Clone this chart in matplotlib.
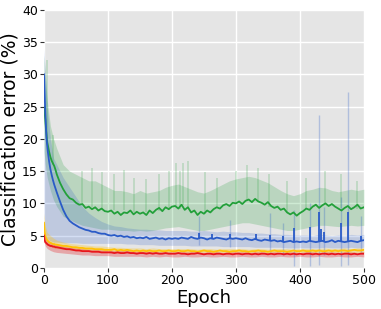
import matplotlib
matplotlib.use("Agg")
import matplotlib.pyplot as plt

epochs = [0, 1, 2, 3, 4, 5, 6, 8, 10, 12, 14, 16, 18, 20] + list(range(25, 501, 5))

green_mean = [
    25.0, 24.0, 23.0, 21.5, 20.5, 19.5, 19.0, 18.0, 17.2, 16.6, 16.2, 15.8, 15.2, 14.5,
    13.2, 12.2, 11.4, 10.8, 10.6, 10.1, 9.8, 9.9, 9.3, 9.5, 9.1, 9.4, 8.9, 9.2, 8.8, 8.7,
    8.9, 8.4, 8.7, 8.2, 8.6, 8.5, 8.9, 8.3, 8.7, 8.4, 8.6, 8.2, 8.9, 8.5, 9.0, 9.3, 8.8, 9.4, 9.1, 9.5,
    9.6, 9.2, 9.8, 9.0, 9.4, 8.6, 8.9, 8.2, 8.7, 8.4, 8.9, 8.6, 9.1, 9.4, 9.2, 9.7, 9.9, 9.6, 10.1, 10.0,
    10.3, 9.9, 10.4, 10.6, 10.2, 10.7, 10.3, 10.1, 9.8, 10.2, 9.6, 9.3, 9.5, 9.0, 9.2, 8.6, 8.3, 8.6, 8.1, 8.5,
    8.8, 9.2, 9.0, 9.5, 9.8, 9.3, 9.7, 10.0, 9.6, 9.9, 9.5, 9.2, 8.9, 9.3, 9.6, 9.1, 9.4, 9.8, 9.2, 9.4,
]
blue_mean = [
    30.0, 27.0, 24.0, 22.0, 20.0, 19.0, 18.0, 16.5, 15.3, 14.4, 13.6, 12.9, 12.3, 11.7,
    10.3, 9.0, 8.0, 7.3, 6.9, 6.6, 6.3, 6.1, 5.9, 5.8, 5.6, 5.6, 5.4, 5.3, 5.3, 5.1,
    5.0, 5.1, 4.9, 5.0, 4.8, 4.9, 4.7, 4.8, 4.6, 4.7, 4.6, 4.8, 4.5, 4.6, 4.7, 4.5, 4.6, 4.4, 4.6, 4.5,
    4.6, 4.5, 4.7, 4.6, 4.5, 4.8, 4.6, 4.5, 4.7, 4.6, 4.4, 4.6, 4.5, 4.7, 4.6, 4.5, 4.4, 4.6, 4.5, 4.6,
    4.5, 4.4, 4.6, 4.4, 4.3, 4.5, 4.3, 4.2, 4.4, 4.3, 4.2, 4.3, 4.1, 4.2, 4.0, 4.1, 4.2, 4.0, 4.1, 4.0,
    4.1, 4.0, 4.2, 4.1, 4.0, 4.1, 4.2, 4.0, 4.1, 4.3, 4.0, 4.2, 4.1, 4.0, 4.1, 4.2, 4.1, 4.0, 4.2, 4.3,
]
yellow_mean = [
    7.0, 5.6, 5.0, 4.7, 4.5, 4.3, 4.2, 4.0, 3.9, 3.8, 3.7, 3.7, 3.6, 3.6,
    3.5, 3.4, 3.4, 3.3, 3.2, 3.2, 3.1, 3.1, 3.0, 3.0, 3.0, 2.9, 2.9, 2.9, 2.8, 2.8,
    2.8, 2.9, 2.7, 2.8, 2.7, 2.8, 2.7, 2.6, 2.7, 2.6, 2.7, 2.6, 2.7, 2.6, 2.6, 2.7, 2.6, 2.6, 2.7, 2.6,
    2.6, 2.7, 2.6, 2.6, 2.7, 2.6, 2.6, 2.5, 2.6, 2.7, 2.6, 2.6, 2.5, 2.6, 2.7, 2.6, 2.6, 2.5, 2.6, 2.6,
    2.7, 2.6, 2.6, 2.5, 2.6, 2.6, 2.7, 2.6, 2.6, 2.5, 2.6, 2.7, 2.6, 2.6, 2.6, 2.5, 2.6, 2.7, 2.6, 2.6,
    2.7, 2.6, 2.6, 2.7, 2.6, 2.7, 2.6, 2.6, 2.7, 2.6, 2.7, 2.6, 2.7, 2.7, 2.6, 2.7, 2.8, 2.7, 2.7, 2.8,
]
red_mean = [
    5.0, 4.3, 4.0, 3.9, 3.8, 3.7, 3.6, 3.5, 3.4, 3.4, 3.3, 3.3, 3.2, 3.2,
    3.1, 3.0, 2.9, 2.9, 2.8, 2.7, 2.7, 2.6, 2.6, 2.6, 2.5, 2.5, 2.5, 2.4, 2.4, 2.4,
    2.4, 2.3, 2.4, 2.3, 2.3, 2.4, 2.3, 2.3, 2.2, 2.3, 2.3, 2.2, 2.3, 2.2, 2.3, 2.2, 2.2, 2.3, 2.2, 2.2,
    2.2, 2.3, 2.2, 2.2, 2.1, 2.2, 2.2, 2.3, 2.2, 2.1, 2.2, 2.2, 2.1, 2.2, 2.2, 2.1, 2.2, 2.2, 2.1, 2.2,
    2.2, 2.1, 2.2, 2.2, 2.1, 2.2, 2.1, 2.2, 2.2, 2.1, 2.2, 2.1, 2.2, 2.2, 2.1, 2.2, 2.1, 2.2, 2.1, 2.2,
    2.1, 2.2, 2.2, 2.1, 2.2, 2.1, 2.2, 2.2, 2.1, 2.2, 2.1, 2.2, 2.1, 2.2, 2.2, 2.1, 2.2, 2.1, 2.2, 2.2,
]

# spread bands, read on a coarser grid
band_epochs = [0, 2, 5, 10, 15, 20] + list(range(30, 501, 10))

green_hi = [33, 30, 26, 22, 20, 18.5,
            16.0, 15.0, 14.5, 14.0, 13.5, 13.5, 13.0, 12.5,
            12.0, 12.0, 11.8, 11.5, 12.0, 11.6, 11.8, 12.0, 12.5, 12.8,
            13.0, 12.6, 12.2, 11.8, 11.6, 12.0, 12.5, 13.0, 13.5, 13.8,
            14.0, 14.2, 14.0, 13.6, 13.2, 12.6, 12.0, 11.5, 11.2, 11.5,
            12.0, 12.2, 12.5, 12.4, 12.0, 11.8, 12.0, 12.2, 12.0, 12.2]
green_lo = [18, 16, 14, 12, 10.5, 9.5,
            8.0, 7.5, 7.0, 6.6, 6.4, 6.2, 6.0, 6.0,
            5.9, 5.8, 5.8, 5.7, 5.8, 5.7, 5.8, 6.0, 6.2, 6.3,
            6.4, 6.2, 6.0, 5.8, 5.8, 6.0, 6.2, 6.4, 6.6, 6.8,
            7.0, 7.0, 6.8, 6.6, 6.4, 6.2, 6.0, 5.8, 5.8, 6.0,
            6.2, 6.4, 6.6, 6.6, 6.5, 6.4, 6.5, 6.6, 6.5, 6.6]
blue_hi = [34, 30, 25, 20, 17, 16,
           14.0, 12.5, 11.0, 9.5, 8.5, 7.8, 7.2, 6.8,
           6.5, 6.4, 6.2, 6.1, 6.0, 6.0, 5.9, 5.9, 5.8, 5.8,
           5.8, 5.8, 5.7, 5.7, 5.8, 5.7, 5.6, 5.7, 5.6, 5.6,
           5.5, 5.5, 5.4, 5.4, 5.3, 5.3, 5.2, 5.2, 5.1, 5.1,
           5.1, 5.0, 5.2, 5.1, 5.0, 5.1, 5.0, 5.2, 5.1, 5.2]
blue_lo = [8.0, 5.0, 4.5, 4.2, 4.0, 4.0,
           3.9, 3.9, 3.9, 3.8, 3.8, 3.8, 3.8, 3.8,
           3.8, 3.8, 3.7, 3.7, 3.6, 3.6, 3.6, 3.5, 3.5, 3.5,
           3.5, 3.5, 3.4, 3.4, 3.4, 3.4, 3.4, 3.3, 3.3, 3.3,
           3.3, 3.3, 3.2, 3.2, 3.2, 3.2, 3.2, 3.1, 3.1, 3.1,
           3.1, 3.1, 3.1, 3.2, 3.1, 3.1, 3.1, 3.2, 3.1, 3.2]
yellow_hi = [8.5, 6.5, 5.5, 5.0, 4.6, 4.3,
             4.0, 3.8, 3.7, 3.6, 3.5, 3.4, 3.4, 3.3,
             3.2, 3.2, 3.1, 3.1, 3.1, 3.0, 3.1, 3.0, 3.0, 3.0,
             3.0, 3.0, 3.0, 2.9, 3.0, 3.0, 2.9, 3.0, 3.0, 3.0,
             3.0, 2.9, 3.0, 3.0, 2.9, 3.0, 3.0, 3.0, 2.9, 3.0,
             3.0, 3.0, 3.0, 3.1, 3.0, 3.0, 3.1, 3.0, 3.1, 3.1]
yellow_lo = [5.5, 4.0, 3.6, 3.3, 3.1, 3.0,
             2.9, 2.8, 2.7, 2.6, 2.6, 2.5, 2.5, 2.5,
             2.4, 2.4, 2.4, 2.3, 2.3, 2.3, 2.3, 2.3, 2.3, 2.3,
             2.3, 2.3, 2.2, 2.3, 2.3, 2.2, 2.3, 2.3, 2.2, 2.3,
             2.3, 2.2, 2.3, 2.3, 2.2, 2.3, 2.3, 2.2, 2.3, 2.3,
             2.3, 2.3, 2.3, 2.3, 2.3, 2.4, 2.3, 2.3, 2.4, 2.4]
red_hi = [6.0, 4.8, 4.3, 3.9, 3.7, 3.6,
          3.4, 3.2, 3.1, 3.0, 2.9, 2.9, 2.8, 2.8,
          2.7, 2.7, 2.7, 2.6, 2.6, 2.6, 2.6, 2.5, 2.5, 2.5,
          2.5, 2.5, 2.5, 2.5, 2.4, 2.5, 2.5, 2.4, 2.5, 2.5,
          2.5, 2.4, 2.5, 2.5, 2.4, 2.5, 2.4, 2.5, 2.5, 2.4,
          2.5, 2.5, 2.4, 2.5, 2.5, 2.4, 2.5, 2.5, 2.4, 2.5]
red_lo = [4.0, 3.4, 3.0, 2.7, 2.5, 2.4,
          2.3, 2.2, 2.1, 2.0, 2.0, 1.9, 1.9, 1.9,
          1.8, 1.8, 1.8, 1.8, 1.8, 1.7, 1.8, 1.7, 1.8, 1.7,
          1.7, 1.8, 1.7, 1.7, 1.8, 1.7, 1.7, 1.8, 1.7, 1.7,
          1.8, 1.7, 1.7, 1.8, 1.7, 1.7, 1.8, 1.7, 1.7, 1.8,
          1.7, 1.7, 1.8, 1.7, 1.7, 1.8, 1.7, 1.7, 1.8, 1.7]

# single-epoch outliers
green_spike_ep = [4, 14, 60, 75, 90, 110, 125, 140, 160, 180, 195, 207, 212, 217, 225,
                  252, 270, 300, 318, 335, 352, 380, 410, 440, 465, 490]
green_spike_base = [20, 16, 10, 9.5, 9.2, 9, 9, 8.7, 8.6, 8.8, 9.3, 9.6, 9.2, 9.8, 9.4,
                    8.4, 9.4, 10, 10.4, 10.2, 9.5, 8.6, 9.2, 9.9, 9.3, 9.2]
green_spike_top = [32.2, 20.6, 15.0, 15.5, 14.8, 14.5, 15.2, 14.0, 13.8, 14.5, 15.0, 16.3,
                   15.0, 16.3, 16.5, 14.9, 14.0, 15.0, 16.0, 15.5, 14.5, 13.5, 14.0, 15.0,
                   14.5, 13.5]
blue_spike_ep = [243, 263, 291, 332, 354, 374, 391, 416, 430, 433, 437, 464, 475, 496]
blue_spike_base = [4.6, 4.6, 4.6, 4.3, 4.2, 4.1, 4.0, 4.1, 4.1, 4.1, 4.2, 4.1, 4.1, 4.2]
blue_spike_top = [5.4, 5.2, 5.3, 5.2, 5.1, 5.0, 6.2, 6.4, 8.7, 6.0, 5.5, 7.0, 8.7, 4.9]
blue_band_spike_ep = [243, 290, 354, 374, 391, 416, 430, 437, 464, 475, 496]
blue_band_spike_lo = [3.5, 3.2, 2.5, 2.0, 0.3, 0.3, 0.5, 2.0, 0.3, 0.5, 2.5]
blue_band_spike_hi = [8.0, 7.5, 8.5, 7.0, 9.0, 10.0, 23.7, 9.5, 11.0, 27.3, 8.0]

GREEN = "#23a03a"
BLUE = "#2a5bc7"
YELLOW = "#ffc107"
RED = "#e8161c"


def main():
    fig = plt.figure(figsize=(3.81, 3.09), dpi=100)
    ax = fig.add_axes([0.1155, 0.133, 0.8395, 0.835])
    ax.set_facecolor("#e5e5e5")
    for s in ax.spines.values():
        s.set_visible(False)
    ax.grid(True, color="white", linewidth=1.0)
    ax.set_axisbelow(True)

    series = [
        (green_mean, green_lo, green_hi, GREEN, 0.22),
        (blue_mean, blue_lo, blue_hi, BLUE, 0.2),
        (yellow_mean, yellow_lo, yellow_hi, YELLOW, 0.3),
        (red_mean, red_lo, red_hi, RED, 0.3),
    ]
    for mean, lo, hi, col, a in series:
        ax.fill_between(band_epochs, lo, hi, color=col, alpha=a, linewidth=0)

    ax.vlines(green_spike_ep, green_spike_base, green_spike_top,
              color=GREEN, alpha=0.22, linewidth=1.2)
    ax.vlines(blue_band_spike_ep, blue_band_spike_lo, blue_band_spike_hi,
              color=BLUE, alpha=0.28, linewidth=1.0)

    for mean, lo, hi, col, a in series:
        ax.plot(epochs, mean, color=col, linewidth=1.3)
    ax.vlines(blue_spike_ep, blue_spike_base, blue_spike_top, color=BLUE, linewidth=1.3)

    ax.set_xlim(0, 500)
    ax.set_ylim(0, 40)
    ax.set_xticks(range(0, 501, 100))
    ax.set_yticks(range(0, 41, 5))
    ax.tick_params(labelsize=9, length=3, color="0.2", pad=1.5)
    ax.set_xlabel("Epoch", fontsize=13, labelpad=1)
    ax.set_ylabel("Classification error (%)", fontsize=13.5, labelpad=2)
    fig.savefig("out.png", dpi=100)


if __name__ == "__main__":
    main()
